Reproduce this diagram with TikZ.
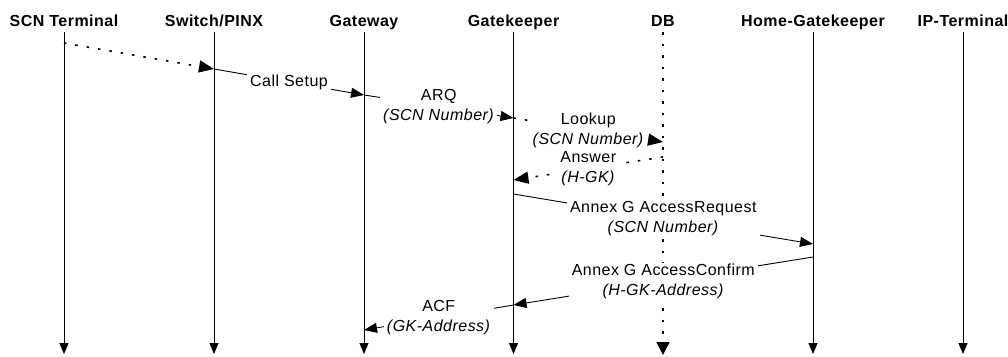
\documentclass[tikz,border=0pt]{standalone}
\usepackage{fontspec}
\setmainfont[LetterSpace=3.0]{Liberation Sans}
\usetikzlibrary{arrows.meta}

\begin{document}
\begin{tikzpicture}[x=1bp, y=-1bp,
    font=\fontsize{16bp}{20bp}\selectfont,
    entity/.style ={font=\fontsize{16bp}{20bp}\selectfont\bfseries, text height=12bp, text depth=4bp, inner sep=2bp, anchor=base},
    life/.style ={line width=0.9bp, -{Triangle[length=11bp,width=9bp]}},
    dblife/.style ={line width=1.6bp, dash pattern=on 2.5bp off 9bp, -{Triangle[length=13bp,width=13bp]}},
    msg/.style ={line width=0.9bp, -{Triangle[length=13bp,width=10bp]}},
    dotmsg/.style ={line width=1.6bp, dash pattern=on 2.5bp off 9bp, -{Triangle[length=15bp,width=12bp]}},
    msglabel/.style ={fill=white, inner xsep=3bp, inner ysep=1bp, align=center}]
   \useasboundingbox (0,0) rectangle (1008,356);

   % participants
   \node[entity] (scn)  at (64,26)    {SCN Terminal};
   \node[entity] (pinx) at (214,26)   {Switch/PINX};
   \node[entity] (gw)   at (364,26)   {Gateway};
   \node[entity] (gk)   at (513.5,26) {Gatekeeper};
   \node[entity] (db)   at (663,26)   {DB};
   \node[entity] (hgk)  at (813,26)   {Home-Gatekeeper};
   \node[entity] (ipt)  at (963,26)   {IP-Terminal};

   \coordinate (scn-end)  at (64,354);
   \coordinate (pinx-end) at (214,354);
   \coordinate (gw-end)   at (364,354);
   \coordinate (gk-end)   at (513.5,354);
   \coordinate (db-end)   at (663,355);
   \coordinate (hgk-end)  at (813,354);
   \coordinate (ipt-end)  at (963,354);

   % lifelines
   \draw[life] (scn.south) -- (scn-end);
   \draw[life] (pinx.south) -- (pinx-end);
   \draw[life] (gw.south) -- (gw-end);
   \draw[life] (gk.south) -- (gk-end);
   \draw[dblife] (db.south) -- (db-end);
   \draw[life] (hgk.south) -- (hgk-end);
   \draw[life] (ipt.south) -- (ipt-end);

   % message points
   \coordinate (scn1)  at (64,43);
   \coordinate (pinx1) at (214,69);
   \coordinate (gw1)   at (364,95);
   \coordinate (gk1)   at (513.5,118);
   \coordinate (db1)   at (663,142);
   \coordinate (db2)   at (663,157);
   \coordinate (gk2)   at (513.5,180);
   \coordinate (gk3)   at (513.5,194);
   \coordinate (hgk1)  at (813,244);
   \coordinate (hgk2)  at (813,257);
   \coordinate (gk4)   at (513.5,305);
   \coordinate (gw2)   at (364,330);

   % messages
   \draw[dotmsg] (scn1) -- (pinx1);
   \draw[msg] (pinx1) -- node[msglabel] (setup) {Call Setup} (gw1);
   \draw[msg] (gw1) -- node[msglabel] (arq) {ARQ\\\textit{(SCN Number)}} (gk1);
   \draw[dotmsg] (gk1) -- node[msglabel] (lookup) {Lookup\\\textit{(SCN Number)}} (db1);
   \draw[dotmsg] (db2) -- node[msglabel] (answer) {Answer\\\textit{(H-GK)}} (gk2);
   \draw[msg] (gk3) -- node[msglabel] (request) {Annex G AccessRequest\\\textit{(SCN Number)}} (hgk1);
   \draw[msg] (hgk2) -- node[msglabel] (confirm) {Annex G AccessConfirm\\\textit{(H-GK-Address)}} (gk4);
   \draw[msg] (gk4) -- node[msglabel] (acf) {ACF\\\textit{(GK-Address)}} (gw2);

\end{tikzpicture}
\end{document}
